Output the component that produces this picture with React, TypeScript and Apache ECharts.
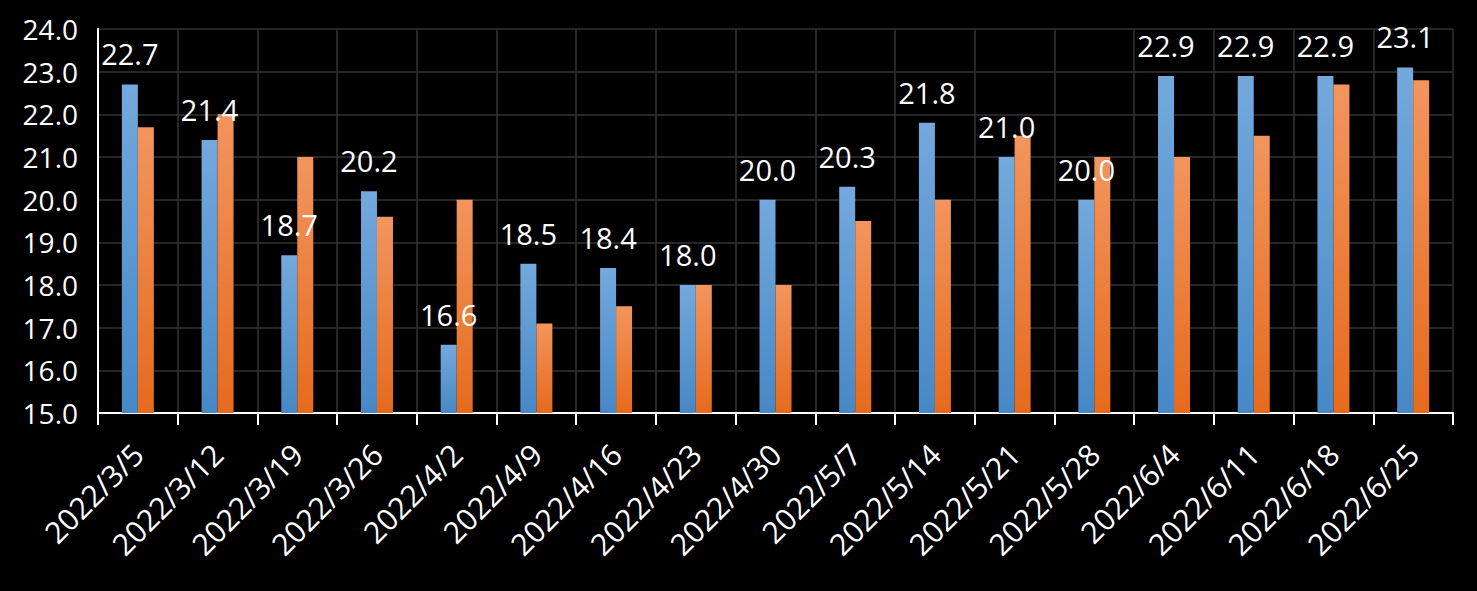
import React, { useEffect, useRef } from "react";
import * as echarts from "echarts";

const categories = [
  "2022/3/5", "2022/3/12", "2022/3/19", "2022/3/26", "2022/4/2", "2022/4/9",
  "2022/4/16", "2022/4/23", "2022/4/30", "2022/5/7", "2022/5/14", "2022/5/21",
  "2022/5/28", "2022/6/4", "2022/6/11", "2022/6/18", "2022/6/25",
];
const blueValues = [22.7, 21.4, 18.7, 20.2, 16.6, 18.5, 18.4, 18.0, 20.0, 20.3, 21.8, 21.0, 20.0, 22.9, 22.9, 22.9, 23.1];
const orangeValues = [21.7, 22.0, 21.0, 19.6, 20.0, 17.1, 17.5, 18.0, 18.0, 19.5, 20.0, 21.5, 21.0, 21.0, 21.5, 22.7, 22.8];

const FONT = "'Open Sans', 'Noto Sans', sans-serif";

export default function App() {
  const ref = useRef<HTMLDivElement>(null);
  useEffect(() => {
    if (!ref.current) return;
    const chart = echarts.init(ref.current, null, { renderer: "svg" });
    chart.setOption({
      animation: false,
      backgroundColor: "#000000",
      grid: { left: 98, right: 24, top: 29, bottom: 178 },
      xAxis: {
        type: "category",
        data: categories,
        boundaryGap: true,
        axisLine: { show: true, lineStyle: { color: "#ffffff", width: 2 } },
        axisTick: { show: true, length: 12, lineStyle: { color: "#ffffff", width: 2 } },
        axisLabel: {
          color: "#ffffff",
          fontFamily: FONT,
          fontSize: 30,
          rotate: 45,
          margin: 36,
          interval: 0,
        },
        splitLine: { show: true, lineStyle: { color: "#333333", width: 1.5 } },
      },
      yAxis: {
        type: "value",
        min: 15,
        max: 24,
        interval: 1,
        axisLine: { show: true, lineStyle: { color: "#ffffff", width: 2 } },
        axisTick: { show: false },
        axisLabel: {
          color: "#ffffff",
          fontFamily: FONT,
          fontSize: 28,
          margin: 20,
          formatter: (v: number) => v.toFixed(1),
        },
        splitLine: { show: true, lineStyle: { color: "#333333", width: 1.5 } },
      },
      series: [
        {
          type: "bar",
          data: blueValues,
          barWidth: 16,
          barGap: "0%",
          itemStyle: {
            color: new echarts.graphic.LinearGradient(0, 0, 0, 1, [
              { offset: 0, color: "#73a9dd" },
              { offset: 1, color: "#4688c6" },
            ]),
          },
          label: {
            show: true,
            position: "top",
            distance: 16,
            color: "#ffffff",
            fontFamily: FONT,
            fontSize: 29,
            formatter: (p: any) => Number(p.value).toFixed(1),
          },
        },
        {
          type: "bar",
          data: orangeValues,
          barWidth: 16,
          barGap: "0%",
          itemStyle: {
            color: new echarts.graphic.LinearGradient(0, 0, 0, 1, [
              { offset: 0, color: "#f2955e" },
              { offset: 1, color: "#e66a1c" },
            ]),
          },
        },
      ],
    });
    return () => chart.dispose();
  }, []);
  return <div ref={ref} style={{ width: 1477, height: 591, position: "absolute", left: 0, top: 0 }} />;
}
